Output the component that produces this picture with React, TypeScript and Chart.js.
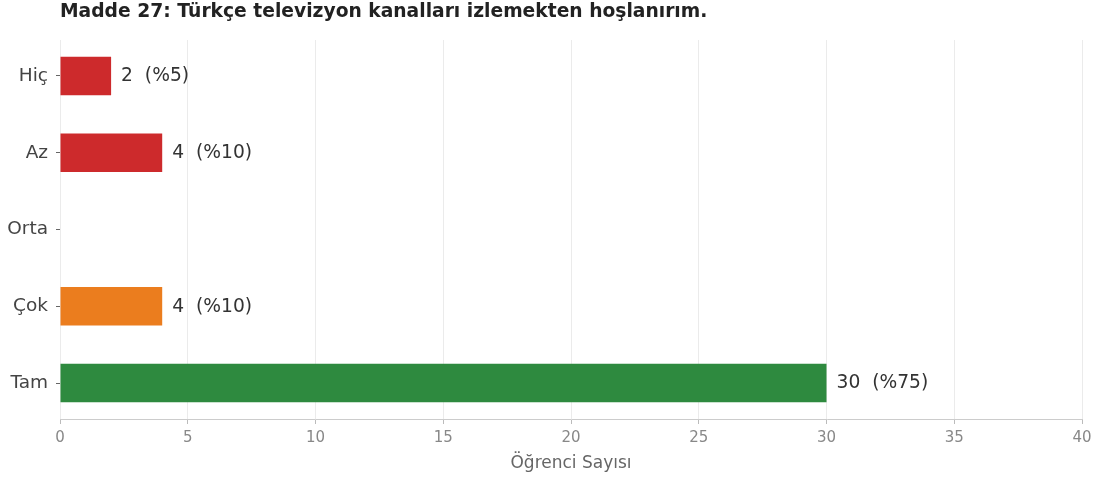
import React, { useEffect, useRef } from "react";
import { Chart, registerables } from "chart.js";

Chart.register(...registerables);

const titleText = "Madde 27: Türkçe televizyon kanalları izlemekten hoşlanırım.";
const categories = ["Hiç", "Az", "Orta", "Çok", "Tam"];
const counts = [2, 4, 0, 4, 30];
const percents = [5, 10, 0, 10, 75];
const barColors = ["#cd2a2c", "#cd2a2c", "#f0c020", "#eb7d1e", "#2e8a3f"];
const xTicks = [0, 5, 10, 15, 20, 25, 30, 35, 40];
const xTitle = "Öğrenci Sayısı";

const FONT = "'DejaVu Sans', sans-serif";

export default function App() {
  const ref = useRef<HTMLCanvasElement | null>(null);
  useEffect(() => {
    document.body.style.margin = "0";
    const canvas = ref.current;
    if (!canvas) return;

    const labelPlugin = {
      id: "valueLabels",
      afterDatasetsDraw(chart: any) {
        const ctx = chart.ctx;
        const meta = chart.getDatasetMeta(0);
        ctx.save();
        ctx.font = `18.7px ${FONT}`;
        ctx.fillStyle = "#333333";
        ctx.textAlign = "left";
        ctx.textBaseline = "middle";
        meta.data.forEach((bar: any, i: number) => {
          if (!counts[i]) return;
          ctx.fillText(`${counts[i]}  (%${percents[i]})`, bar.x + 10, bar.y + 0.5);
        });
        ctx.restore();
      },
    };

    const titlePlugin = {
      id: "leftTitle",
      afterDraw(chart: any) {
        const ctx = chart.ctx;
        ctx.save();
        ctx.font = `bold 18.7px ${FONT}`;
        ctx.fillStyle = "#222222";
        ctx.textAlign = "left";
        ctx.textBaseline = "middle";
        ctx.fillText(titleText, chart.chartArea.left, 12.5);
        ctx.restore();
      },
    };

    const chart = new Chart(canvas, {
      type: "bar",
      data: {
        datasets: [
          {
            data: counts.map((c, i) => ({ x: c, y: i })),
            backgroundColor: barColors,
            borderWidth: 0,
            barPercentage: 0.5,
            categoryPercentage: 1,
          },
        ],
      },
      plugins: [labelPlugin, titlePlugin],
      options: {
        indexAxis: "y",
        animation: false,
        responsive: false,
        devicePixelRatio: 1,
        layout: { padding: { top: 40, right: 19, left: 0, bottom: 0 } },
        plugins: {
          legend: { display: false },
          tooltip: { enabled: false },
          title: { display: false },
        },
        scales: {
          x: {
            type: "linear",
            min: 0,
            max: 40,
            afterBuildTicks(scale: any) {
              scale.ticks = xTicks.map((v) => ({ value: v }));
            },
            afterFit(scale: any) {
              scale.height = 58;
            },
            grid: {
              color: "#ebebeb",
              tickColor: "#bbbbbb",
              tickLength: 5,
              lineWidth: 1,
            },
            border: { display: true, color: "#cccccc" },
            ticks: {
              font: { family: FONT, size: 15 },
              color: "#888888",
              padding: 5,
              maxRotation: 0,
            },
            title: {
              display: true,
              text: xTitle,
              font: { family: FONT, size: 17 },
              color: "#666666",
              padding: { top: 0, bottom: 3 },
            },
          },
          y: {
            type: "linear",
            reverse: true,
            offset: false,
            min: -0.469,
            max: 4.469,
            afterBuildTicks(scale: any) {
              scale.ticks = categories.map((_, i) => ({ value: i }));
            },
            afterFit(scale: any) {
              scale.width = 60;
            },
            grid: {
              offset: false,
              drawOnChartArea: false,
              drawTicks: true,
              tickLength: 4,
              tickColor: "#666666",
            },
            border: { display: false },
            ticks: {
              font: { family: FONT, size: 18.5 },
              color: "#444444",
              padding: 8,
              callback: (v: any) => categories[v as number] ?? "",
            },
          },
        },
      },
    } as any);
    return () => chart.destroy();
  }, []);
  return <canvas ref={ref} width={1101} height={477} style={{ display: "block" }} />;
}
